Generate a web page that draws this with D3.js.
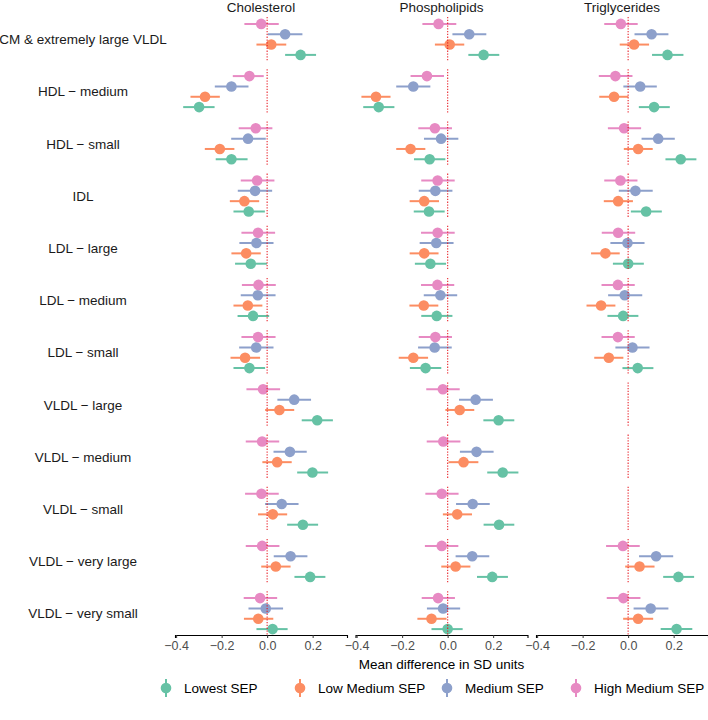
<head>
    <meta charset="utf-8">
    <style>
        body { margin: 0; background: #fff; }
        text { font-family: "Liberation Sans", Arial, Helvetica, sans-serif; }
    </style>
    <script src="https://d3js.org/d3.v7.min.js"></script>
</head>
<body>
<div id="chart"></div>
<script>

var rows = ["CM & extremely large VLDL", "HDL − medium", "HDL − small", "IDL", "LDL − large",
            "LDL − medium", "LDL − small", "VLDL − large", "VLDL − medium", "VLDL − small",
            "VLDL − very large", "VLDL − very small"];
var panels = ["Cholesterol", "Phospholipids", "Triglycerides"];
var groups = ["Lowest SEP", "Low Medium SEP", "Medium SEP", "High Medium SEP"];
var colors = ["#66c2a5", "#fc8d62", "#8da0cb", "#e78ac3"];
var xTicks = [-0.4, -0.2, 0, 0.2];

// [estimate, lower, upper] for each row, top to bottom
var cholLowest = [[0.147,0.079,0.215],[-0.299,-0.369,-0.231],[-0.157,-0.226,-0.086],[-0.081,-0.148,-0.010],
    [-0.072,-0.141,-0.001],[-0.062,-0.130,0.009],[-0.078,-0.148,-0.009],[0.220,0.152,0.289],
    [0.199,0.132,0.268],[0.157,0.088,0.224],[0.189,0.120,0.256],[0.024,-0.047,0.090]];
var cholLowMed = [[0.018,-0.047,0.084],[-0.273,-0.337,-0.208],[-0.208,-0.274,-0.144],[-0.100,-0.164,-0.035],
    [-0.092,-0.157,-0.028],[-0.085,-0.148,-0.021],[-0.097,-0.161,-0.031],[0.054,-0.009,0.119],
    [0.044,-0.021,0.108],[0.025,-0.040,0.088],[0.038,-0.026,0.103],[-0.039,-0.102,0.027]];
var cholMed = [[0.079,0.003,0.155],[-0.157,-0.230,-0.082],[-0.084,-0.158,-0.006],[-0.053,-0.129,0.022],
    [-0.047,-0.122,0.028],[-0.041,-0.116,0.037],[-0.048,-0.123,0.028],[0.119,0.045,0.193],
    [0.100,0.028,0.174],[0.064,-0.009,0.138],[0.103,0.029,0.177],[-0.006,-0.082,0.070]];
var cholHighMed = [[-0.026,-0.100,0.051],[-0.078,-0.151,-0.015],[-0.050,-0.125,0.023],[-0.044,-0.116,0.032],
    [-0.040,-0.113,0.035],[-0.038,-0.111,0.038],[-0.040,-0.113,0.037],[-0.018,-0.091,0.057],
    [-0.022,-0.094,0.053],[-0.025,-0.097,0.051],[-0.022,-0.094,0.054],[-0.031,-0.103,0.044]];

var phosLowest = [[0.158,0.091,0.227],[-0.303,-0.371,-0.234],[-0.079,-0.148,-0.010],[-0.082,-0.149,-0.013],
    [-0.076,-0.144,-0.007],[-0.048,-0.116,0.021],[-0.097,-0.166,-0.028],[0.224,0.157,0.293],
    [0.242,0.174,0.311],[0.226,0.158,0.293],[0.196,0.129,0.265],[0.000,-0.071,0.066]];
var phosLowMed = [[0.009,-0.056,0.073],[-0.315,-0.379,-0.251],[-0.163,-0.226,-0.098],[-0.103,-0.167,-0.038],
    [-0.103,-0.167,-0.040],[-0.105,-0.168,-0.041],[-0.151,-0.215,-0.086],[0.053,-0.010,0.117],
    [0.070,0.004,0.135],[0.042,-0.021,0.107],[0.035,-0.028,0.100],[-0.071,-0.133,-0.005]];
var phosMed = [[0.095,0.021,0.170],[-0.151,-0.226,-0.076],[-0.029,-0.104,0.047],[-0.054,-0.127,0.021],
    [-0.050,-0.123,0.026],[-0.032,-0.105,0.042],[-0.057,-0.130,0.018],[0.123,0.050,0.199],
    [0.127,0.054,0.202],[0.110,0.037,0.185],[0.108,0.035,0.183],[-0.020,-0.091,0.055]];
var phosHighMed = [[-0.040,-0.111,0.038],[-0.091,-0.163,-0.016],[-0.056,-0.129,0.019],[-0.044,-0.116,0.031],
    [-0.044,-0.117,0.031],[-0.045,-0.117,0.029],[-0.054,-0.127,0.019],[-0.021,-0.094,0.053],
    [-0.019,-0.092,0.056],[-0.026,-0.098,0.048],[-0.026,-0.100,0.047],[-0.042,-0.114,0.032]];

var trigLowest = [[0.173,0.105,0.243],[0.114,0.047,0.183],[0.231,0.164,0.300],[0.079,0.012,0.148],
    [0.000,-0.067,0.069],[-0.022,-0.091,0.045],[0.042,-0.025,0.111],null,
    null,null,[0.221,0.154,0.290],[0.213,0.143,0.282]];
var trigLowMed = [[0.026,-0.037,0.092],[-0.062,-0.127,0.001],[0.044,-0.019,0.108],[-0.044,-0.107,0.021],
    [-0.100,-0.163,-0.037],[-0.119,-0.183,-0.056],[-0.085,-0.149,-0.021],null,
    null,null,[0.050,-0.013,0.116],[0.044,-0.022,0.110]];
var trigMed = [[0.103,0.028,0.177],[0.053,-0.021,0.126],[0.132,0.059,0.205],[0.032,-0.041,0.108],
    [-0.003,-0.078,0.072],[-0.015,-0.088,0.062],[0.019,-0.056,0.094],null,
    null,null,[0.123,0.048,0.198],[0.099,0.024,0.177]];
var trigHighMed = [[-0.032,-0.105,0.042],[-0.056,-0.129,0.019],[-0.018,-0.089,0.057],[-0.034,-0.105,0.041],
    [-0.044,-0.116,0.031],[-0.045,-0.117,0.029],[-0.045,-0.117,0.029],null,
    null,null,[-0.023,-0.097,0.051],[-0.021,-0.094,0.054]];

var panelData = [
    [cholLowest, cholLowMed, cholMed, cholHighMed],
    [phosLowest, phosLowMed, phosMed, phosHighMed],
    [trigLowest, trigLowMed, trigMed, trigHighMed]
];

var W = 708, H = 720;
var panelLeft = [175, 355.5, 536],
    panelW = 172,
    axisY = 635;

var svg = d3.select("#chart").append("svg")
    .attr("width", W)
    .attr("height", H);

var x = d3.scaleLinear().domain([-0.405, 0.351]).range([0, panelW]);
var y = d3.scalePoint().domain(rows).range([39.4, 613.6]);
// High Medium on top, Lowest at the bottom of each row
var dodge = d3.scalePoint().domain(groups.slice().reverse()).range([-15.5, 15.5]);

// row labels
svg.append("g").selectAll("text")
    .data(rows)
    .enter()
    .append("text")
    .attr("x", 83)
    .attr("y", d => y(d))
    .attr("dy", "0.35em")
    .attr("text-anchor", "middle")
    .attr("font-size", "13.5px")
    .attr("fill", "#1a1a1a")
    .text(d => d);

panels.forEach(function(p, pi) {

    var g = svg.append("g").attr("transform", "translate(" + panelLeft[pi] + ",0)");

    g.append("text")
        .attr("x", panelW / 2)
        .attr("y", 11.5)
        .attr("text-anchor", "middle")
        .attr("font-size", "13.5px")
        .attr("fill", "#1a1a1a")
        .text(p);

    var flat = [];
    panelData[pi].forEach(function(series, gi) {
        series.forEach(function(v, ri) {
            if (v) flat.push({ row: rows[ri], group: groups[gi], col: colors[gi], est: v[0], lo: v[1], hi: v[2] });
        });
    });

    g.append("g").selectAll("line")
        .data(flat)
        .enter()
        .append("line")
        .attr("x1", d => x(d.lo))
        .attr("x2", d => x(d.hi))
        .attr("y1", d => y(d.row) + dodge(d.group))
        .attr("y2", d => y(d.row) + dodge(d.group))
        .attr("stroke", d => d.col)
        .attr("stroke-width", 2);

    g.append("g").selectAll("circle")
        .data(flat)
        .enter()
        .append("circle")
        .attr("cx", d => x(d.est))
        .attr("cy", d => y(d.row) + dodge(d.group))
        .attr("r", 5.3)
        .attr("fill", d => d.col);

    // zero reference, one piece per row strip
    g.append("g").selectAll("line")
        .data(rows)
        .enter()
        .append("line")
        .attr("x1", x(0))
        .attr("x2", x(0))
        .attr("y1", d => y(d) - 22.4)
        .attr("y2", d => y(d) + 22.4)
        .attr("stroke", "#e8141c")
        .attr("stroke-opacity", 0.85)
        .attr("stroke-width", 1.2)
        .attr("stroke-dasharray", "1.3,1.5");

    var ax = g.append("g")
        .attr("transform", "translate(0," + axisY + ")")
        .call(d3.axisBottom(x).tickValues(xTicks).tickFormat(d3.format(".1f")).tickSizeOuter(0).tickSize(3).tickPadding(3));
    ax.select(".domain").attr("stroke", "#000").attr("stroke-width", 1.1);
    ax.selectAll(".tick line").attr("stroke", "#333");
    ax.selectAll(".tick text")
        .attr("fill", "#4d4d4d")
        .attr("font-size", "12.5px")
        .attr("font-family", "Liberation Sans, Arial, sans-serif");
});

svg.append("text")
    .attr("x", (panelLeft[0] + panelLeft[2] + panelW) / 2)
    .attr("y", 664)
    .attr("dy", "0.35em")
    .attr("text-anchor", "middle")
    .attr("font-size", "13.5px")
    .attr("fill", "#000")
    .text("Mean difference in SD units");

// legend
var legendX = [166, 300, 447, 576],
    legendY = 688;

var leg = svg.append("g").selectAll("g")
    .data(groups)
    .enter()
    .append("g")
    .attr("transform", (d, i) => "translate(" + legendX[i] + "," + legendY + ")");

leg.append("line")
    .attr("y1", -9)
    .attr("y2", 9)
    .attr("stroke", (d, i) => colors[i])
    .attr("stroke-width", 2);

leg.append("circle")
    .attr("r", 5.3)
    .attr("fill", (d, i) => colors[i]);

leg.append("text")
    .attr("x", 18)
    .attr("dy", "0.35em")
    .attr("font-size", "13.5px")
    .attr("fill", "#000")
    .text(d => d);

</script>
</body>
